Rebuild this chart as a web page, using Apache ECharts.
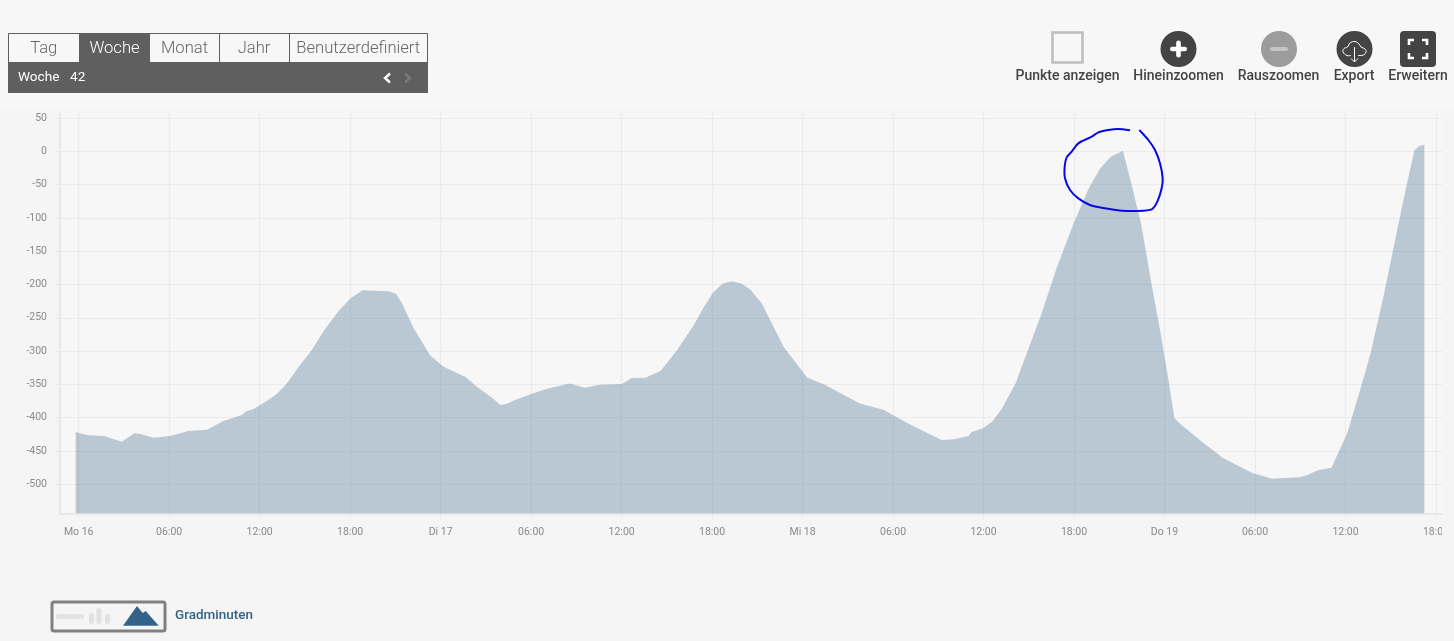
<!DOCTYPE html>
<html>
<head>
<meta charset="utf-8">
<style>html,body{margin:0;padding:0;background:#f5f5f5}#c{width:1454px;height:641px}</style>
<script src="https://cdn.jsdelivr.net/npm/echarts@6/dist/echarts.min.js"></script>
</head>
<body>
<div id="c"></div>
<script>
const seriesName = 'Gradminuten';
const hours = [-0.2,0.53,1.75,2.86,3.68,4.08,4.96,6.06,7.27,8.5,9.6,10.82,11.08,11.6,12.47,13.13,13.8,14.63,15.46,16.23,17.33,18.12,18.83,20.54,21.04,21.44,22.19,23.31,24.19,25.65,26.4,27.41,27.96,28.36,28.96,30.06,31.06,32.56,33.57,34.57,36.02,36.67,37.58,38.58,39.68,40.78,41.43,42.08,42.69,43.29,43.99,44.54,45.29,46.74,48.3,49.5,51.8,53.36,54.91,57.21,58.02,59.02,59.17,59.92,60.57,61.22,62.12,62.87,63.78,64.88,65.98,66.98,67.74,68.44,69.24,69.74,70.44,71.09,71.74,72.3,72.65,73.05,74.4,75.85,77.86,79.16,80.91,81.46,82.16,83.07,84.12,84.97,85.67,86.52,87.43,88.08,88.58,88.93,89.23];
const values = [-421.5,-426,-428,-436,-423.5,-424.5,-430,-427.5,-420,-418,-405,-396,-390.5,-387,-375,-364.5,-348.5,-322.5,-298.5,-270,-237,-219,-208.5,-210,-214,-228,-265,-306.5,-323.5,-339,-353.5,-370,-381,-379.5,-373,-364,-356.5,-348.5,-355,-350.5,-349.5,-340.5,-340,-330,-298.5,-261,-235,-211.5,-199,-195,-199,-208,-228,-293.5,-339.5,-351,-378.5,-388,-407.5,-433.5,-432.5,-427.5,-422,-416,-406,-386,-348.5,-303,-248,-173,-108,-55.5,-25.5,-8,1,-43,-108,-193,-273,-348.5,-400,-409.5,-434.5,-460,-483.5,-491.5,-489.5,-486.5,-479,-475,-423,-358.5,-303,-218,-118,-48,2,8.5,9.5];
const xTickHours = [0,6,12,18,24,30,36,42,48,54,60,66,72,78,84,90];
const xTickLabels = ['Mo 16','06:00','12:00','18:00','Di 17','06:00','12:00','18:00','Mi 18','06:00','12:00','18:00','Do 19','06:00','12:00','18:00'];
const yTicks = [-500,-450,-400,-350,-300,-250,-200,-150,-100,-50,0,50];
const tabs = ['Tag','Woche','Monat','Jahr','Benutzerdefiniert'];
const tools = ['Punkte anzeigen','Hineinzoomen','Rauszoomen','Export','Erweitern'];

const F = 'Roboto';
const dark = '#5f5f5f', icon = '#444444', blue = '#336288';
const txt = (x,y,text,fontSize,fill,fontWeight,align) => ({type:'text',x,y,z:10,style:{text,fontFamily:F,fontSize,fill,fontWeight:fontWeight||400,align:align||'center',verticalAlign:'middle'}});
const rect = (x,y,width,height,fill,extra) => Object.assign({type:'rect',z:9,shape:{x,y,width,height,r:(extra&&extra.r)||0},style:Object.assign({fill},(extra&&extra.style)||{})});
const bar = (x,y,w,h,fill) => ({type:'rect',z:10,shape:{x,y,width:w,height:h,r:Math.min(w,h)/2},style:{fill}});
const seg = (pts,stroke,lw,smooth) => ({type:'polyline',z:11,shape:{points:pts,smooth:smooth||0},style:{stroke,lineWidth:lw,fill:null}});

const tabEdges = [8.5,79,150,219,289,427.5];
const g = [];
g.push(rect(0,0,1454,108,'#f7f7f7',{}));
// period selector
g.push(rect(8.5,33.5,419,29,'#f7f7f7',{style:{stroke:dark,lineWidth:1}}));
g.push(rect(79,33,71,30,dark,{}));
g.push(rect(8,62,420,31,dark,{}));
[219,289].forEach(x=>g.push({type:'line',z:10,shape:{x1:x+.5,y1:33,x2:x+.5,y2:62},style:{stroke:dark,lineWidth:1}}));
tabs.forEach((t,i)=>g.push(txt((tabEdges[i]+tabEdges[i+1])/2,48.5,t,16.6,i===1?'#ffffff':'#666666',300)));
g.push(txt(18,78,'Woche',13.6,'#ffffff',400,'left'));
g.push(txt(70,78,'42',13.6,'#ffffff',400,'left'));
g.push(seg([[390,73.5],[385,78],[390,82.5]],'#ffffff',2.4));
g.push(seg([[405,73.5],[410,78],[405,82.5]],'#7a7a7a',2.4));
// tools
const toolX = [1067.5,1178.5,1278.5,1354,1418];
tools.forEach((t,i)=>g.push(txt(toolX[i],76.5,t,14,'#444444',500)));
g.push(rect(1052.5,32.5,30,30,'none',{style:{stroke:'#bdbdbd',lineWidth:2.5}}));
g.push({type:'circle',z:9,shape:{cx:1178.5,cy:49,r:18},style:{fill:icon}});
g.push(bar(1170,46.7,17,4.6,'#ffffff'));g.push(bar(1176.2,40.5,4.6,17,'#ffffff'));
g.push({type:'circle',z:9,shape:{cx:1279,cy:49,r:18},style:{fill:'#9c9c9c'}});
g.push(bar(1270,47,18,4,'#c4c4c4'));
g.push({type:'circle',z:9,shape:{cx:1354.5,cy:49,r:18},style:{fill:icon}});
g.push(seg([[1351,55.5],[1347,55.5],[1343,52],[1344,48.5],[1347.5,47],[1350,43],[1355,41.5],[1359,44],[1361,47],[1365,49],[1366,52],[1363.5,55],[1358,55.5]],'#ffffff',1,0.4));
g.push(seg([[1354.5,47],[1354.5,62]],'#ffffff',1));
g.push(seg([[1351,58.5],[1354.5,62],[1358,58.5]],'#ffffff',1));
g.push({type:'rect',z:9,shape:{x:1400,y:31,width:36,height:36,r:4},style:{fill:icon}});
[[[1409,45],[1409,40],[1414,40]],[[1422,40],[1427,40],[1427,45]],[[1427,53],[1427,58],[1422,58]],[[1414,58],[1409,58],[1409,53]]].forEach(p=>g.push(seg(p,'#ffffff',2.6)));
// series switch / legend
g.push({type:'rect',z:9,shape:{x:52,y:602,width:113,height:29,r:2},style:{fill:'none',stroke:'#808080',lineWidth:3}});
g.push(bar(56,614,28,5,'#e2e2e2'));
g.push(bar(89,613,5,11,'#e2e2e2'));g.push(bar(96.5,608,5,16,'#e2e2e2'));g.push(bar(105,614,5,10,'#e2e2e2'));
g.push({type:'polygon',z:10,shape:{points:[[123,625.7],[137,606],[142.7,613],[145.7,611],[158.7,625.7]]},style:{fill:blue}});
g.push(txt(175,616,seriesName,13.5,blue,500,'left'));
// hand-drawn annotation
const ink = [[240,31],[205,27],[175,30],[145,37],[125,50],[85,70],[65,95],[50,112],[44,140],[45,175],[60,210],[85,235],[120,255],[165,265],[215,272],[260,273],[305,268],[322,245],[335,205],[338,175],[330,130],[315,90],[295,60],[268,30]].map(p=>[1050+p[0]/3,120+p[1]/3]);
g.push({type:'polyline',z:20,shape:{points:ink,smooth:0.25},style:{stroke:'#0808e0',lineWidth:2,fill:null}});
// right edge of the plot panel crops the last label
g.push(rect(1442,520,12,24,'#f5f5f5',{}));

const chart = echarts.init(document.getElementById('c'),null,{renderer:'canvas'});
const axisLine = {show:true,lineStyle:{color:'#e8e8e8',width:2}};
const tick = {show:true,length:5,lineStyle:{color:'#e8e8e8',width:1}};
const split = {show:true,lineStyle:{color:'#ebebeb',width:1.2}};
chart.setOption({
  animation:false,
  backgroundColor:'#f5f5f5',
  grid:{left:60,right:12,top:113,bottom:641-513.5,show:true,backgroundColor:'#f7f7f7',borderWidth:0},
  xAxis:{type:'value',min:-1.24,max:90.4,
    axisLine:Object.assign({onZero:false},axisLine),
    axisTick:Object.assign({customValues:xTickHours},tick),
    splitLine:split,
    axisLabel:{customValues:xTickHours,margin:13,fontFamily:F,fontSize:10.5,color:'#8a8a8a',showMinLabel:true,showMaxLabel:true,hideOverlap:false,
      formatter:v=>xTickLabels[xTickHours.indexOf(v)]}},
  yAxis:{type:'value',min:-543.8,max:57.5,
    axisLine:Object.assign({onZero:false},axisLine),
    axisTick:Object.assign({customValues:yTicks},tick),
    splitLine:split,
    axisLabel:{customValues:yTicks,margin:13,fontFamily:F,fontSize:10.5,color:'#8a8a8a'}},
  series:[{name:seriesName,type:'line',data:hours.map((h,i)=>[h,values[i]]),showSymbol:false,smooth:false,
    lineStyle:{width:0},areaStyle:{color:blue,opacity:0.31,origin:'start'},z:5}],
  graphic:{elements:g}
});
</script>
</body>
</html>
